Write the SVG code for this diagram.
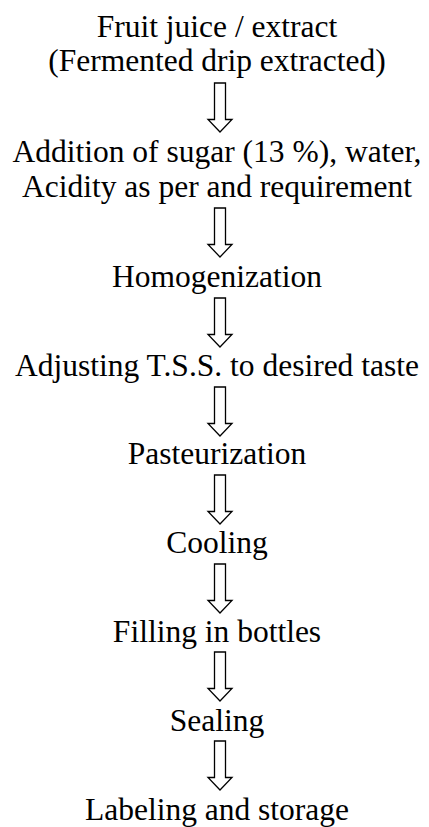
<svg xmlns="http://www.w3.org/2000/svg" width="429" height="827" viewBox="0 0 429 827">
<style>
text{font-family:"Liberation Serif","Times New Roman",serif;font-size:31.5px;fill:#000;text-anchor:middle}
.arr{fill:#fff;stroke:#000;stroke-width:1.3;stroke-linejoin:miter}
</style>
<defs>
<polygon id="a" class="arr" points="-5.5,0 5.5,0 5.5,36.5 12,36.5 0,49 -12,36.5 -5.5,36.5"/>
</defs>
<rect width="429" height="827" fill="#fff"/>
<g id="n1"><text x="217" y="37">Fruit juice / extract</text><text x="217" y="71">(Fermented drip extracted)</text></g>
<g id="n2"><text x="217" y="162">Addition of sugar (13 %), water,</text><text x="217" y="197">Acidity as per and requirement</text></g>
<g id="n3"><text x="217" y="287">Homogenization</text></g>
<g id="n4"><text x="217" y="376">Adjusting T.S.S. to desired taste</text></g>
<g id="n5"><text x="217" y="464">Pasteurization</text></g>
<g id="n6"><text x="217" y="553">Cooling</text></g>
<g id="n7"><text x="217" y="642">Filling in bottles</text></g>
<g id="n8"><text x="217" y="731">Sealing</text></g>
<g id="n9"><text x="217" y="820">Labeling and storage</text></g>
<g id="connectors">
<use href="#a" x="220" y="83"/>
<use href="#a" x="220" y="208"/>
<use href="#a" x="220" y="298"/>
<use href="#a" x="220" y="387"/>
<use href="#a" x="220" y="475"/>
<use href="#a" x="220" y="564"/>
<use href="#a" x="220" y="652"/>
<use href="#a" x="220" y="741"/>
</g>
</svg>
